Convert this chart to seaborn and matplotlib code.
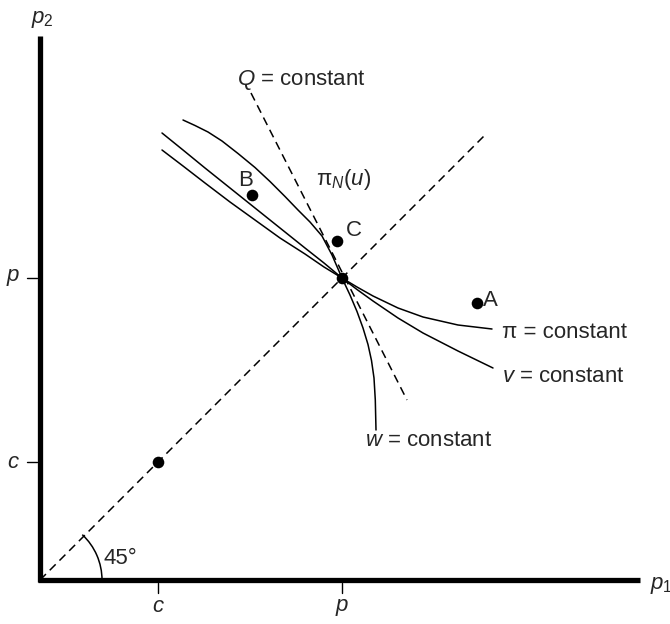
import numpy as np
import matplotlib
matplotlib.use("Agg")
import matplotlib.pyplot as plt
from matplotlib.patches import Arc
import seaborn as sns

# ---- data (price plane: p1 horizontal, p2 vertical) ----
p_level = 302
c_level = 118

# w = constant
w_x = [143, 155, 168, 182, 198, 215, 230, 245, 258, 270, 282, 292, 302,
       310, 317, 323, 328, 331.5, 334, 335.3, 336]
w_y = [460, 454.5, 448, 439, 426.5, 412.5, 398.5, 383.5, 370, 358, 344, 325, 302,
       285, 268.5, 252, 235.5, 219.5, 202, 180, 150]

# v = constant
v_x = [122, 143, 165, 190, 215, 240, 265, 284, 302, 317, 333, 358, 383, 418, 453]
v_y = [447, 430, 412, 392, 372, 352, 332, 317, 302, 290.5, 279, 262, 247, 229, 212]

# pi = constant
pi_x = [122, 143, 165, 190, 215, 240, 265, 284, 302, 317, 333, 358, 383, 418, 452]
pi_y = [430, 414, 397, 378, 360, 342, 326, 313, 302, 293, 284, 272, 263, 255, 251]

# Q = constant and the 45-degree line
q_x = [211, 367]
q_y = [487, 180]
diag_x = [0, 447]
diag_y = [0, 447]

pt_names = ["B", "C", "A"]
pt_x = [212, 297, 437]
pt_y = [385, 339, 277]

# ---- style ----
sns.set_theme(style="white")
plt.rcParams["font.family"] = ["Liberation Sans", "DejaVu Sans"]
plt.rcParams["mathtext.fontset"] = "custom"
plt.rcParams["mathtext.rm"] = "Liberation Sans"
plt.rcParams["mathtext.it"] = "Liberation Sans:italic"

fig = plt.figure(figsize=(6.7, 6.24), dpi=100)
ax = fig.add_axes([0, 0, 1, 1])
ax.set_xlim(-40, 630)
ax.set_ylim(-44, 580)
ax.axis("off")

FS = 16
LW = 1.1
dash = (0, (5.5, 3.5))

# axes
ax.plot([-2, 600], [0, 0], color="black", lw=3.8, solid_capstyle="butt")
ax.plot([0, 0], [-2, 544], color="black", lw=3.8, solid_capstyle="butt")

# ticks
for t in (c_level, p_level):
    ax.plot([t, t], [-3, -13], color="black", lw=1.0)
    ax.plot([-3, -13], [t, t], color="black", lw=1.0)
ax.text(c_level, -27, "$c$", fontsize=FS, ha="center", va="center")
ax.text(p_level, -27, "$p$", fontsize=FS, ha="center", va="center")
ax.text(-27, c_level, "$c$", fontsize=FS, ha="center", va="center")
ax.text(-27, p_level, "$p$", fontsize=FS, ha="center", va="center")
ax.text(2, 560, r"$p_{\mathit{2}}$", fontsize=FS, ha="center", va="center")
ax.text(610, -5, r"$p_{\mathit{1}}$", fontsize=FS, ha="left", va="center")

# dashed lines
sns.lineplot(x=diag_x, y=diag_y, ax=ax, color="black", lw=LW, linestyle=dash, sort=False)
sns.lineplot(x=q_x, y=q_y, ax=ax, color="black", lw=LW, linestyle=dash, sort=False)

# curves
for cx, cy in ((w_x, w_y), (v_x, v_y), (pi_x, pi_y)):
    sns.lineplot(x=cx, y=cy, ax=ax, color="black", lw=LW, sort=False)

# 45 degree arc
ax.add_patch(Arc((0, 0), 124, 124, theta1=0, theta2=47, color="black", lw=LW))
ax.text(64, 22, "45°", fontsize=FS, ha="left", va="center")

# points
sns.scatterplot(x=pt_x + [p_level, c_level], y=pt_y + [p_level, c_level],
                ax=ax, s=70, color="black", linewidth=0, zorder=5)

# labels
ax.text(206, 400, "B", fontsize=FS, ha="center", va="center")
ax.text(314, 350, "C", fontsize=FS, ha="center", va="center")
ax.text(443, 280, "A", fontsize=FS, ha="left", va="center")
ax.text(197, 500, "$Q$ = constant", fontsize=FS, ha="left", va="center")
ax.text(276, 400, r"$\mathrm{π}_{N}(u)$", fontsize=FS, ha="left", va="center")
ax.text(462, 247, "π = constant", fontsize=FS, ha="left", va="center")
ax.text(462, 204, "$v$ = constant", fontsize=FS, ha="left", va="center")
ax.text(325, 139, "$w$ = constant", fontsize=FS, ha="left", va="center")

fig.savefig("out.png", dpi=100)
